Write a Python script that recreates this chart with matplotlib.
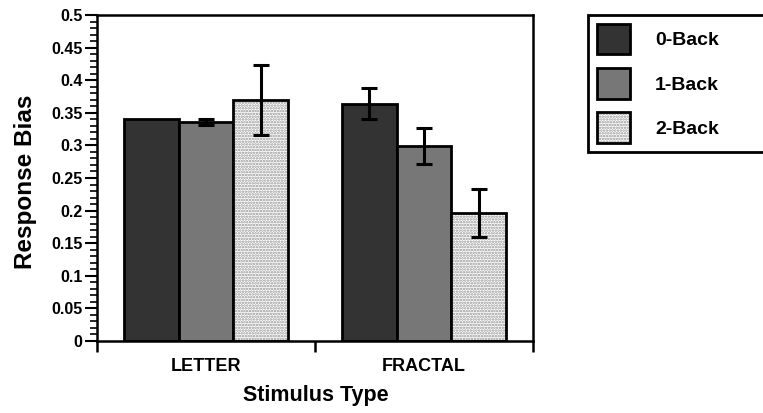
import matplotlib.pyplot as plt
import numpy as np
from matplotlib.patches import Patch
from matplotlib.legend_handler import HandlerTuple
from matplotlib.ticker import MultipleLocator, FuncFormatter

plt.rcParams['font.family'] = ['Liberation Sans', 'DejaVu Sans']
plt.rcParams['font.weight'] = 'bold'
plt.rcParams['hatch.linewidth'] = 1.2

categories = ['LETTER', 'FRACTAL']
series = ['0-Back', '1-Back', '2-Back']
zero_back = [0.340, 0.364]
zero_back_err = [0.0, 0.024]
one_back = [0.336, 0.299]
one_back_err = [0.004, 0.027]
two_back = [0.370, 0.196]
two_back_err = [0.054, 0.037]

values = [zero_back, one_back, two_back]
errors = [zero_back_err, one_back_err, two_back_err]
colors = ['#333333', '#777777', 'white']
dots = '#949494'

fig = plt.figure(figsize=(7.63, 4.13), dpi=100)
ax = fig.add_axes([97 / 763, 1 - 341 / 413, 436 / 763, 326 / 413])

x = np.arange(len(categories))
width = 0.252
for i, (vals, errs) in enumerate(zip(values, errors)):
    pos = x + (i - 1) * width
    if i == 2:
        # stippled fill, then black outline on top
        ax.bar(pos, vals, width, color='white', edgecolor=dots,
               hatch='......', linewidth=0, zorder=2)
        ax.bar(pos, vals, width, fill=False, edgecolor='black',
               linewidth=2, zorder=3)
    else:
        ax.bar(pos, vals, width, color=colors[i], edgecolor='black',
               linewidth=2, zorder=2)
    for p, v, e in zip(pos, vals, errs):
        if e > 0:
            ax.errorbar(p, v, yerr=e, color='black', elinewidth=2.2,
                        capsize=6, capthick=2.2, zorder=4)

ax.set_xlim(-0.5, 1.5)
ax.set_ylim(0, 0.5)
ax.set_xticks([-0.5, 0.5, 1.5])
ax.set_xticklabels([])
ax.set_xticks(x, minor=True)
ax.set_xticklabels(categories, minor=True)
ax.tick_params(axis='x', which='major', direction='out', length=8, width=1.8)
ax.tick_params(axis='x', which='minor', length=0, pad=12, labelsize=13)

ax.yaxis.set_major_locator(MultipleLocator(0.05))
ax.yaxis.set_minor_locator(MultipleLocator(0.01))
ax.yaxis.set_major_formatter(FuncFormatter(lambda v, p: '0' if abs(v) < 1e-9 else ('%.2f' % v).rstrip('0')))
ax.tick_params(axis='y', which='major', direction='out', length=9, width=1.5,
               labelsize=11.5, pad=1.5)
ax.tick_params(axis='y', which='minor', direction='out', length=5, width=1.2)
for s in ax.spines.values():
    s.set_linewidth(1.8)

ax.text(-0.165, 0.489, 'Response Bias', transform=ax.transAxes, rotation=90,
        ha='center', va='center', fontsize=17.5, fontweight='bold')
ax.text(0.503, -0.166, 'Stimulus Type', transform=ax.transAxes,
        ha='center', va='center', fontsize=15.5, fontweight='bold')

handles = [
    Patch(facecolor=colors[0], edgecolor='black', linewidth=2),
    Patch(facecolor=colors[1], edgecolor='black', linewidth=2),
    (Patch(facecolor='white', edgecolor=dots, hatch='......', linewidth=0),
     Patch(fill=False, edgecolor='black', linewidth=2)),
]
leg = fig.legend(handles, series, loc='upper left',
                 bbox_to_anchor=(588 / 763, 0, 230 / 763, 1 - 15 / 413),
                 mode='expand',
                 handler_map={tuple: HandlerTuple(ndivide=1, pad=0)},
                 fontsize=14, handlelength=1.7, handleheight=2.05,
                 labelspacing=0.7, handletextpad=1.3, borderpad=0.45,
                 borderaxespad=0, fancybox=False, edgecolor='black',
                 framealpha=1)
leg.get_frame().set_linewidth(2)

fig.savefig('out.png', dpi=100)
